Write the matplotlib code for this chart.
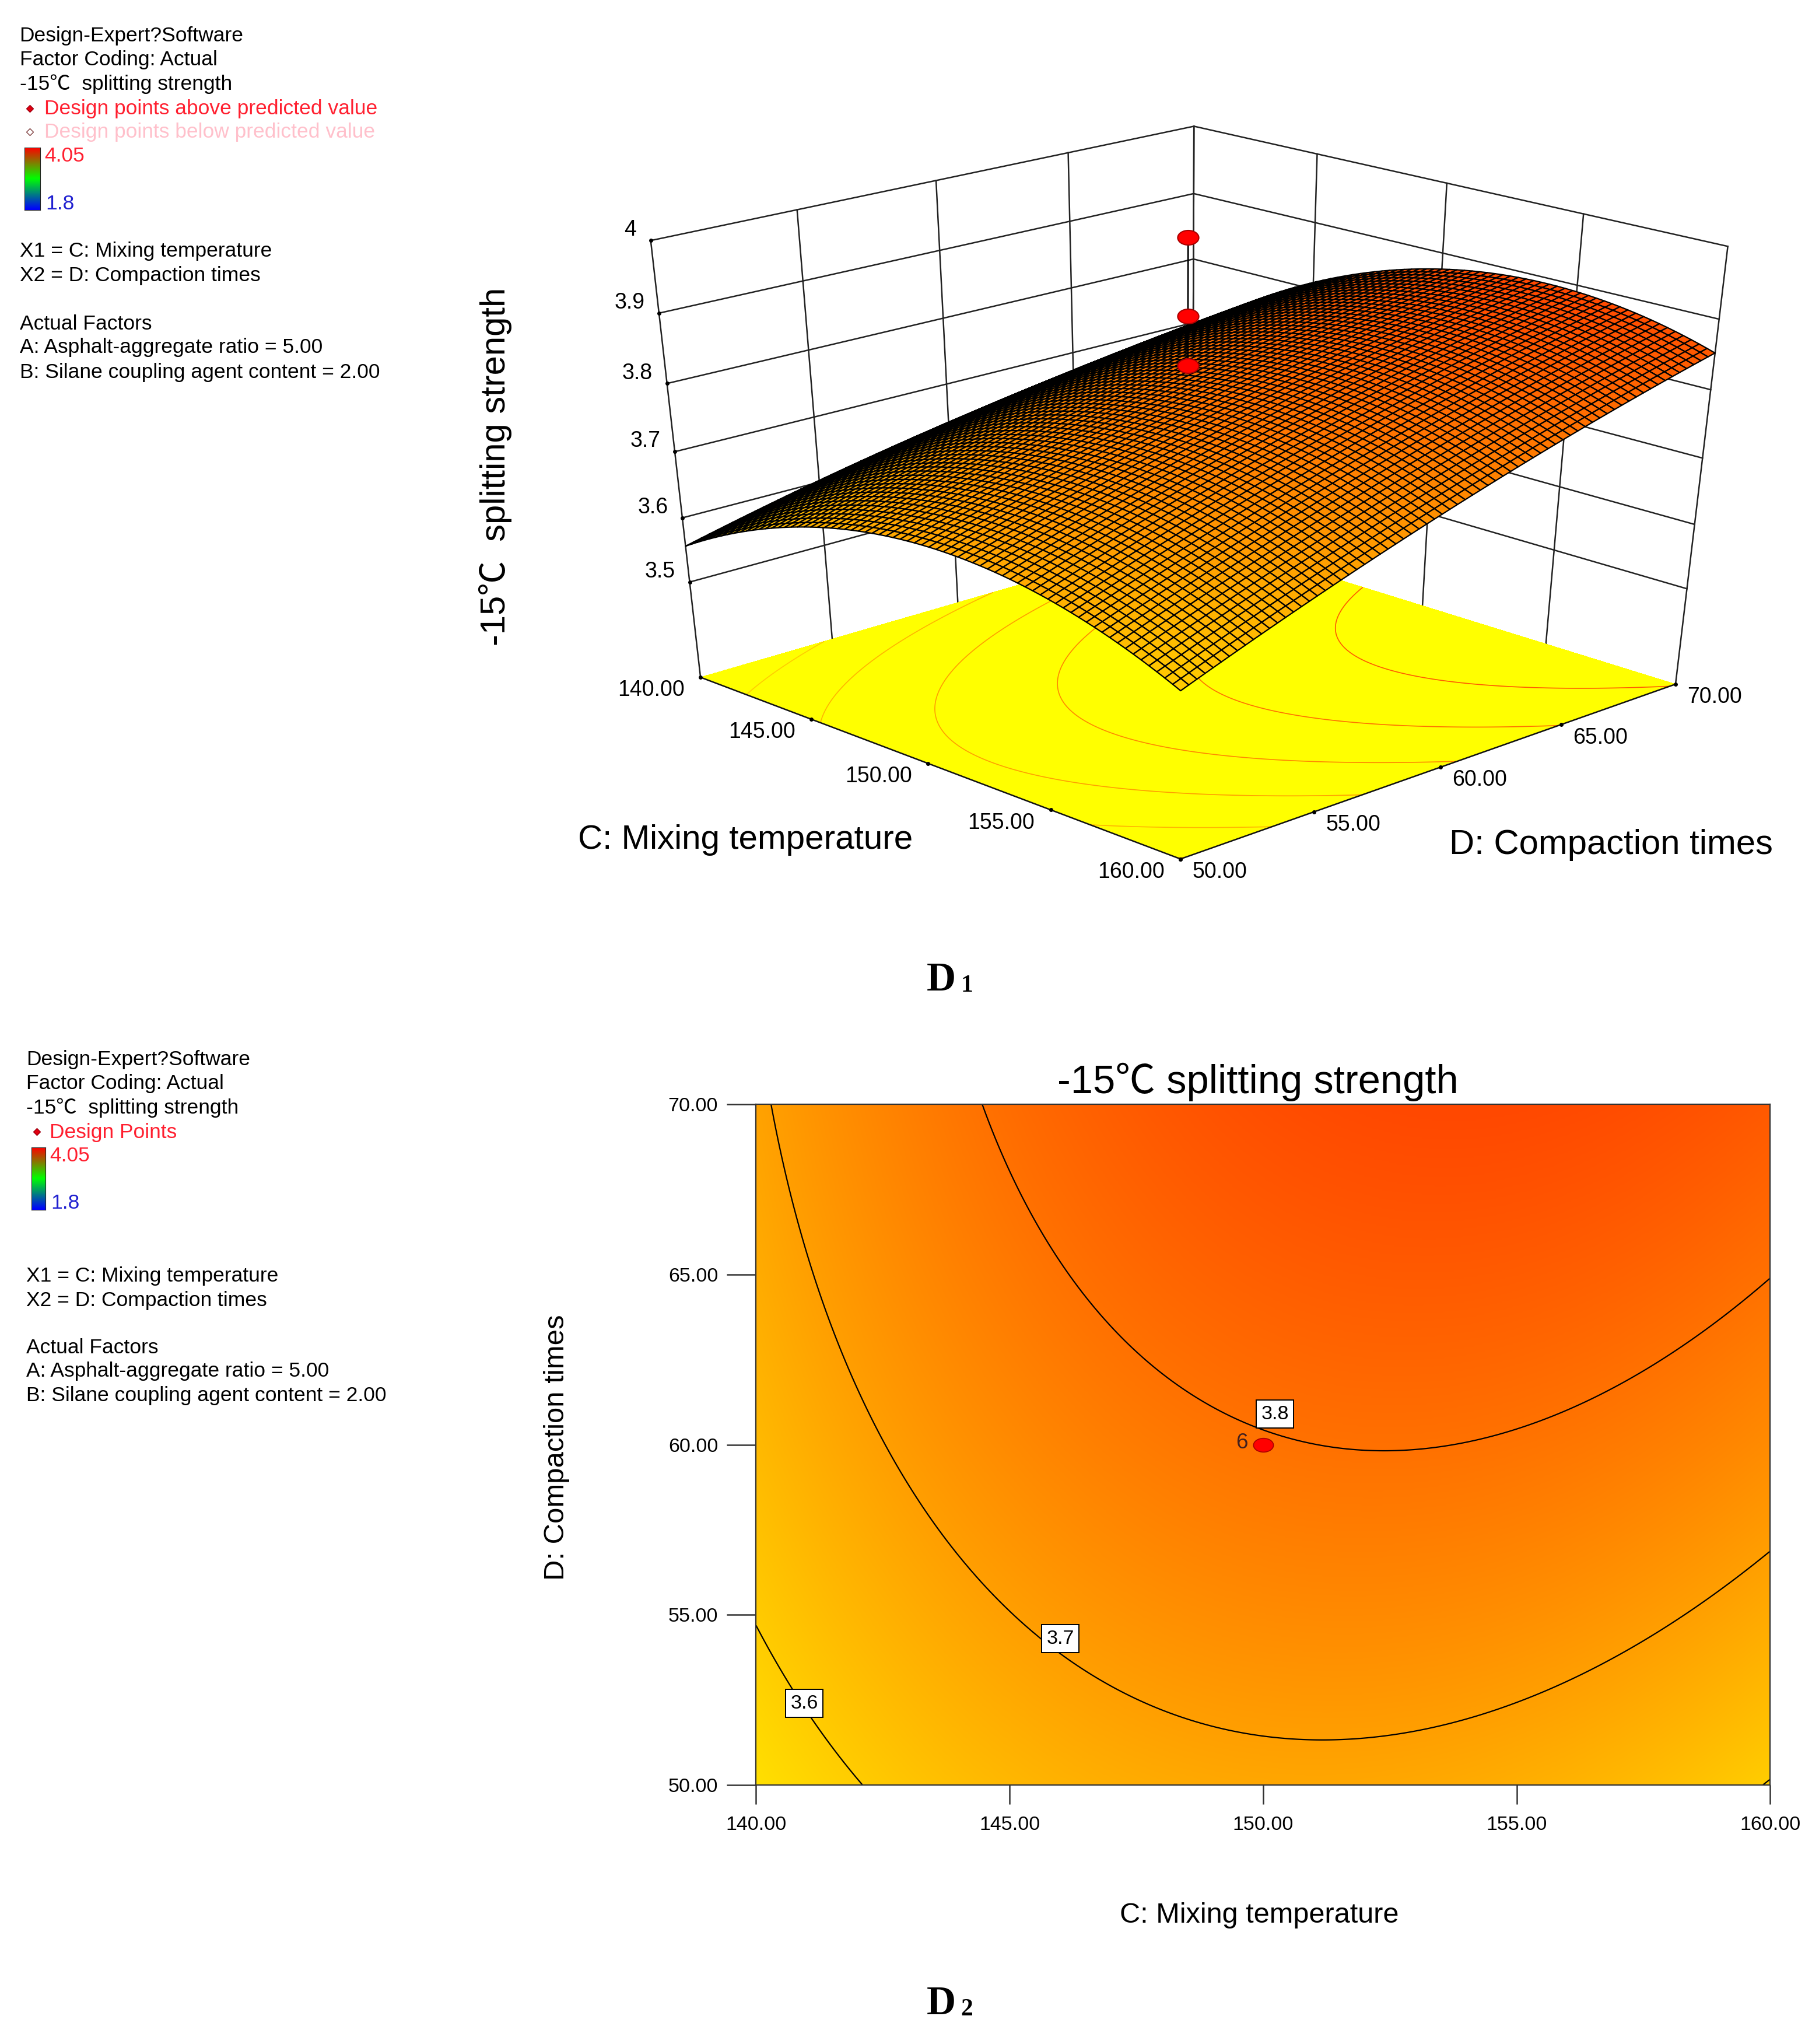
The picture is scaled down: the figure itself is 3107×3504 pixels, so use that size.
import numpy as np
import matplotlib
matplotlib.use("Agg")
import matplotlib.pyplot as plt
from matplotlib.colors import LinearSegmentedColormap, Normalize
from matplotlib.markers import MarkerStyle
from matplotlib.transforms import Affine2D
from mpl_toolkits.mplot3d import proj3d

# response values, rows are D, columns are C
c_ticks = [140, 145, 150, 155, 160]
d_ticks = [50, 55, 60, 65, 70]
z_ticks = [3.5, 3.6, 3.7, 3.8, 3.9, 4.0]
z_labels = ["3.5", "3.6", "3.7", "3.8", "3.9", "4"]
z_read = [
    [3.565, 3.645, 3.668, 3.676, 3.596],
    [3.605, 3.698, 3.738, 3.738, 3.675],
    [3.640, 3.736, 3.785, 3.785, 3.740],
    [3.670, 3.778, 3.858, 3.868, 3.806],
    [3.695, 3.796, 3.888, 3.893, 3.835],
]
floor_levels = [3.6, 3.65, 3.7, 3.75, 3.8, 3.85]
line_levels = [3.6, 3.7, 3.8]
point_c = 150
point_d = 60
point_z = [4.008, 3.90, 3.83]

W, H = 3107, 3504
K = W / 1390
PT = K * 0.72
ZB = 3.346


def fx(x):
    return x * K / W


def fy(y):
    return 1 - y * K / H


# quadratic response surface through the read values
cc, dd = np.meshgrid(np.array(c_ticks, float), np.array(d_ticks, float))


def basis(c, d):
    c, d = (c - 150) / 10, (d - 60) / 10
    return np.stack([np.ones_like(c), c, d, c * d, c * c, d * d], axis=-1)


coef = np.linalg.lstsq(basis(cc, dd).reshape(-1, 6), np.array(z_read).ravel(), rcond=None)[0]


def model(c, d):
    return basis(c, d) @ coef


# Design-Expert colour ramp
cmap = LinearSegmentedColormap.from_list("de", ["blue", "cyan", "lime", "yellow", "red"], N=4096)
norm = Normalize(1.8, 4.05)

plt.rcParams["font.family"] = ["Liberation Sans", "Noto Sans CJK SC", "DejaVu Sans"]
fig = plt.figure(figsize=(W / 100, H / 100), dpi=100)

# ---- 3D panel
ax = fig.add_axes([891.1 / W, 2028.1 / H, 2230.2 / W, 1295.2 / H], projection="3d", computed_zorder=False)
ax.apply_aspect = lambda position=None: None  # keep the stretched box of the reference
ax.set_xlim(140, 160)
ax.set_ylim(50, 70)
ax.set_zlim(ZB, 4)
ax.view_init(29.6791, -44.1282, -0.0787)
ax.set_proj_type("persp", focal_length=0.6118)
ax.set_box_aspect((1, 0.9924, 1.1895))
ax.set_axis_off()

line_kw = dict(color="#222222", lw=1.8, zorder=1)
for c in c_ticks:
    ax.plot([c, c], [70, 70], [ZB, 4], **line_kw)
for d in d_ticks:
    ax.plot([140, 140], [d, d], [ZB, 4], **line_kw)
for z in z_ticks:
    ax.plot([140, 160], [70, 70], [z, z], **line_kw)
    ax.plot([140, 140], [50, 70], [z, z], **line_kw)

floor_c, floor_d = np.meshgrid([140, 160], [50, 70])
ax.plot_surface(floor_c, floor_d, np.full((2, 2), ZB), color="#ffff00", shade=False, zorder=2, antialiased=False)
c_fine, d_fine = np.meshgrid(np.linspace(140, 160, 401), np.linspace(50, 70, 401))
z_fine = model(c_fine, d_fine)
ax.contour(c_fine, d_fine, z_fine, levels=floor_levels, zdir="z", offset=ZB, cmap=cmap, norm=norm, linewidths=1.2, zorder=3)
edge_kw = dict(color="#111111", lw=1.8, zorder=3)
ax.plot([140, 160], [50, 50], [ZB, ZB], **edge_kw)
ax.plot([160, 160], [50, 70], [ZB, ZB], **edge_kw)

c_mesh, d_mesh = np.meshgrid(np.linspace(140, 160, 71), np.linspace(50, 70, 71))
z_mesh = model(c_mesh, d_mesh)
z_face = 0.25 * (z_mesh[:-1, :-1] + z_mesh[1:, :-1] + z_mesh[:-1, 1:] + z_mesh[1:, 1:])
ax.plot_surface(c_mesh, d_mesh, z_mesh, rstride=1, cstride=1, facecolors=cmap(norm(z_face)),
                edgecolor="black", linewidth=1.6, shade=False, zorder=4)

# tick dots and labels
dot = dict(ls="none", marker="o", ms=4, color="black", zorder=5)
tick3d = 27
tick2d = 24.5
M = ax.get_proj()


def label3d(c, d, z, s, dx, dy, ha="center"):
    x, y, _ = proj3d.proj_transform(c, d, z, M)
    ax.annotate(s, (x, y), xytext=(dx * PT, dy * PT), textcoords="offset points", ha=ha, va="center",
                fontsize=tick3d, annotation_clip=False, zorder=6)


for c in c_ticks:
    ax.plot([c], [50], [ZB], **dot)
    label3d(c, 50, ZB, f"{c:.2f}", -38, -10)
for d in d_ticks:
    ax.plot([160], [d], [ZB], **dot)
    label3d(160, d, ZB, f"{d:.2f}", 30, -10)
for z, lab in zip(z_ticks, z_labels):
    ax.plot([140], [50], [z], **dot)
    label3d(140, 50, z, lab, -11, 8, ha="right")

# design points
ell = MarkerStyle("o", transform=Affine2D().scale(1.45, 1))
ax.plot([point_c, point_c], [point_d, point_d], [point_z[0], point_z[-1]], color="black", lw=2, zorder=5)
for z in point_z:
    ax.plot([point_c], [point_d], [z], ls="none", marker=ell, ms=18, mfc="#ff0000", mec="#aa0000", mew=1.5, zorder=6)

fig.text(fx(572), fy(644), "C: Mixing temperature", fontsize=42, ha="center", va="center")
fig.text(fx(1236), fy(648), "D: Compaction times", fontsize=43, ha="center", va="center")
fig.text(fx(380), fy(358), "-15℃  splitting strength", fontsize=43, rotation=90, ha="center", va="center")

# ---- contour panel
ax2 = fig.add_axes([fx(580), fy(1369), fx(1358) - fx(580), fy(847) - fy(1369)])
ax2.imshow(z_fine, extent=[140, 160, 50, 70], origin="lower", aspect="auto", cmap=cmap, norm=norm, interpolation="bilinear")
ax2.contour(c_fine, d_fine, z_fine, levels=line_levels, colors="black", linewidths=1.6)
ax2.set_xticks(c_ticks, [f"{c:.2f}" for c in c_ticks])
ax2.set_yticks(d_ticks, [f"{d:.2f}" for d in d_ticks])
ax2.tick_params(axis="x", length=24, width=1.8, labelsize=tick2d, pad=14, color="#333333")
ax2.tick_params(axis="y", length=36, width=1.8, labelsize=tick2d, pad=11, color="#333333")
for s in ax2.spines.values():
    s.set_linewidth(1.6)
    s.set_color("#333333")
ax2.set_title("-15℃ splitting strength", fontsize=49.5, pad=14, x=(965 - 580) / 778)
box = dict(boxstyle="square,pad=0.25", fc="white", ec="black", lw=1.4)
for (c, d, lab) in [(150.23, 60.9, "3.8"), (146.0, 54.3, "3.7"), (140.95, 52.4, "3.6")]:
    ax2.text(c, d, lab, fontsize=tick2d, ha="center", va="center", bbox=box)
ax2.plot([point_c], [point_d], ls="none", marker=ell, ms=17, mfc="#ff0000", mec="#aa0000", mew=1.2)
ax2.text(point_c - 0.3, point_d + 0.05, "6", fontsize=tick2d + 2, color="#402020", ha="right", va="center")
fig.text(fx(966), fy(1469), "C: Mixing temperature", fontsize=35, ha="center", va="center")
fig.text(fx(427), fy(1110), "D: Compaction times", fontsize=35.4, rotation=90, ha="center", va="center")


# ---- legends
def legend_text(x, y, s, color="black"):
    fig.text(fx(x), fy(y + 1.5), s, fontsize=25.5, color=color, ha="left", va="center")


def legend_dot(x, y, fc, ec):
    fig.add_artist(plt.Line2D([fx(x)], [fy(y)], ls="none", marker="D", ms=6.5, mfc=fc, mec=ec))


def colorbar(x0, x1, y0, y1):
    cax = fig.add_axes([fx(x0), fy(y1), fx(x1) - fx(x0), fy(y0) - fy(y1)])
    cax.imshow(np.linspace(1, 0, 64)[:, None], aspect="auto", cmap=LinearSegmentedColormap.from_list("bar", ["blue", "lime", "red"]))
    cax.set_xticks([])
    cax.set_yticks([])
    for s in cax.spines.values():
        s.set_color("#222222")


for i, s in enumerate(["Design-Expert?Software", "Factor Coding: Actual", "-15℃  splitting strength"]):
    legend_text(15, 26 + i * 18.5, s)
legend_text(34, 82, "Design points above predicted value", "#ff2030")
legend_text(34, 100, "Design points below predicted value", "#ffc0cb")
legend_dot(23, 83, "#e00010", "#a00010")
legend_dot(23, 101, "white", "#804040")
colorbar(19, 31, 113, 161)
legend_text(34, 118, "4.05", "#ff2030")
legend_text(35, 155, "1.8", "#2020d0")
for y, s in [(191, "X1 = C: Mixing temperature"), (210, "X2 = D: Compaction times"), (247, "Actual Factors"),
             (265, "A: Asphalt-aggregate ratio = 5.00"), (284, "B: Silane coupling agent content = 2.00")]:
    legend_text(15, y, s)

for i, s in enumerate(["Design-Expert?Software", "Factor Coding: Actual", "-15℃  splitting strength"]):
    legend_text(20, 811 + i * 18.5, s)
legend_text(38, 867, "Design Points", "#ff2030")
legend_dot(28, 868, "#e00010", "#a00010")
colorbar(24, 35, 880, 928)
legend_text(38, 885, "4.05", "#ff2030")
legend_text(39, 921, "1.8", "#2020d0")
for y, s in [(977, "X1 = C: Mixing temperature"), (996, "X2 = D: Compaction times"), (1032, "Actual Factors"),
             (1050, "A: Asphalt-aggregate ratio = 5.00"), (1069, "B: Silane coupling agent content = 2.00")]:
    legend_text(20, y, s)

# ---- panel captions
for y, n in [(752, "1"), (1537, "2")]:
    fig.text(fx(711), fy(y), "D", fontsize=50, family="Liberation Serif", fontweight="bold", ha="left", va="center")
    fig.text(fx(737), fy(y + 4), n, fontsize=30, family="Liberation Serif", fontweight="bold", ha="left", va="center")

fig.savefig("out.png", dpi=100)
